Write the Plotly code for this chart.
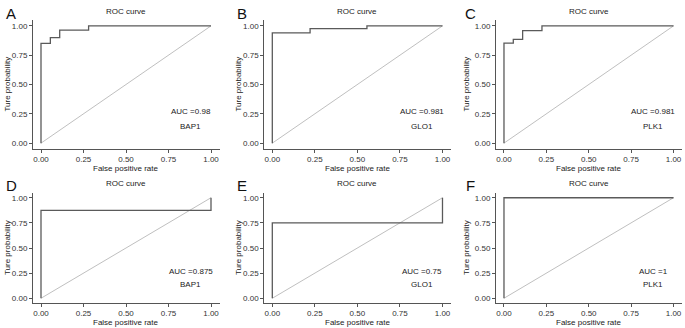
import plotly.graph_objects as go

# ---- data ----
panel_letters = ["A", "B", "C", "D", "E", "F"]
genes = ["BAP1", "GLO1", "PLK1", "BAP1", "GLO1", "PLK1"]
auc_labels = ["0.98", "0.981", "0.981", "0.875", "0.75", "1"]

fpr_A = [0, 0, 0.055, 0.055, 0.11, 0.11, 0.28, 0.28, 1.0]
tpr_A = [0, 0.85, 0.85, 0.90, 0.90, 0.963, 0.963, 1.0, 1.0]
fpr_B = [0, 0, 0.222, 0.222, 0.556, 0.556, 1.0]
tpr_B = [0, 0.94, 0.94, 0.977, 0.977, 1.0, 1.0]
fpr_C = [0, 0, 0.055, 0.055, 0.11, 0.11, 0.224, 0.224, 1.0]
tpr_C = [0, 0.853, 0.853, 0.884, 0.884, 0.96, 0.96, 1.0, 1.0]
fpr_D = [0, 0, 1.0, 1.0]
tpr_D = [0, 0.875, 0.875, 1.0]
fpr_E = [0, 0, 1.0, 1.0]
tpr_E = [0, 0.75, 0.75, 1.0]
fpr_F = [0, 0, 1.0]
tpr_F = [0, 1.0, 1.0]

fprs = [fpr_A, fpr_B, fpr_C, fpr_D, fpr_E, fpr_F]
tprs = [tpr_A, tpr_B, tpr_C, tpr_D, tpr_E, tpr_F]
diag = [0, 1]
tick_vals = [0, 0.25, 0.5, 0.75, 1.0]
tick_text = ["0.00", "0.25", "0.50", "0.75", "1.00"]

# ---- layout helpers ----
W, H = 685, 328
def px(x):
    return x / W
def py(y):
    return 1 - y / H

col_dom = [(32.5, 219.5), (263.8, 451.0), (495.5, 682.0)]
row_dom = [(20.0, 149.0), (192.7, 303.3)]
letter_x = [11, 242, 470]
ytitle_x = [7, 238, 466]

FONT = "Liberation Sans, Arial, sans-serif"
TXT = 8
fig = go.Figure()
annotations = []
layout = {}

for i in range(6):
    r, c = divmod(i, 3)
    n = i + 1
    xa = "x" if n == 1 else f"x{n}"
    ya = "y" if n == 1 else f"y{n}"
    x0, x1 = col_dom[c]
    top, bot = row_dom[r]
    fig.add_trace(go.Scatter(x=diag, y=diag, xaxis=xa, yaxis=ya, mode="lines",
                             line=dict(color="#b8b8b8", width=0.9),
                             showlegend=False, hoverinfo="skip"))
    fig.add_trace(go.Scatter(x=fprs[i], y=tprs[i], xaxis=xa, yaxis=ya, mode="lines",
                             line=dict(color="#5a5a5a", width=1.3),
                             showlegend=False))
    axcommon = dict(range=[-0.05, 1.05], tickvals=tick_vals, ticktext=tick_text,
                    showgrid=False, zeroline=False, showline=True,
                    linecolor="#555555", linewidth=1, ticks="outside", ticklen=2.5,
                    tickcolor="#555555", tickfont=dict(family=FONT, size=TXT, color="#333333"),
                    fixedrange=True)
    layout["xaxis" if n == 1 else f"xaxis{n}"] = dict(
        axcommon, domain=[px(x0), px(x1)], anchor=ya)
    layout["yaxis" if n == 1 else f"yaxis{n}"] = dict(
        axcommon, domain=[py(bot), py(top)], anchor=xa)

    cx = (x0 + x1) / 2
    # panel letter
    annotations.append(dict(x=px(letter_x[c]), y=py(top - 7), xref="paper", yref="paper",
                            text=panel_letters[i], showarrow=False,
                            font=dict(family=FONT, size=15, color="#111111"),
                            xanchor="center", yanchor="middle"))
    # title
    annotations.append(dict(x=px(cx), y=py(top - 9), xref="paper", yref="paper",
                            text="ROC curve", showarrow=False,
                            font=dict(family=FONT, size=TXT, color="#222222"),
                            xanchor="center", yanchor="middle"))
    # x title
    annotations.append(dict(x=px(cx), y=py(bot + 19), xref="paper", yref="paper",
                            text="False positive rate", showarrow=False,
                            font=dict(family=FONT, size=TXT, color="#222222"),
                            xanchor="center", yanchor="middle"))
    # y title
    annotations.append(dict(x=px(ytitle_x[c]), y=py((top + bot) / 2), xref="paper", yref="paper",
                            text="Ture probability", showarrow=False, textangle=-90,
                            font=dict(family=FONT, size=TXT, color="#222222"),
                            xanchor="center", yanchor="middle"))
    # AUC text
    annotations.append(dict(x=0.88, y=0.27, xref=xa, yref=ya,
                            text="AUC =" + auc_labels[i], showarrow=False,
                            font=dict(family=FONT, size=TXT, color="#222222"),
                            xanchor="center", yanchor="middle"))
    annotations.append(dict(x=0.88, y=0.14, xref=xa, yref=ya,
                            text=genes[i], showarrow=False,
                            font=dict(family=FONT, size=TXT, color="#222222"),
                            xanchor="center", yanchor="middle"))

fig.update_layout(width=W, height=H, margin=dict(l=0, r=0, t=0, b=0),
                  paper_bgcolor="white", plot_bgcolor="white",
                  annotations=annotations, **layout)
fig.write_html("out.html", config={"displayModeBar": False},
               post_script="document.body.style.margin='0';document.body.style.overflow='hidden';")
